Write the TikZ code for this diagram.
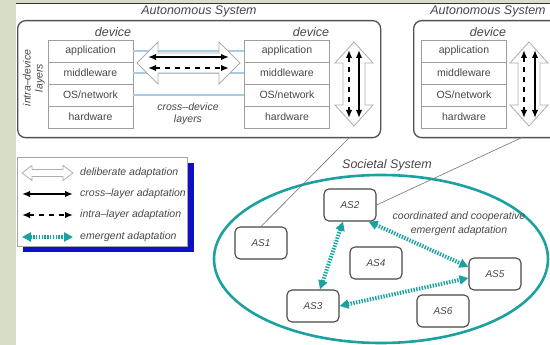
\documentclass[tikz,border=0pt]{standalone}
\usepackage{fontspec}
\setmainfont{Liberation Sans}
\usetikzlibrary{arrows.meta}
\definecolor{bggreen}{RGB}{216,221,202}
\definecolor{txt}{RGB}{72,72,72}
\definecolor{tealc}{RGB}{28,160,160}
\definecolor{lblue}{RGB}{165,205,232}
\definecolor{shadowblue}{RGB}{15,15,200}
\newcommand{\vdblarrow}[6]{\draw[hollow] (#1,#2) -- ({#1+#4},{#2+#6}) -- ({#1+#5},{#2+#6}) -- ({#1+#5},{#3-#6}) -- ({#1+#4},{#3-#6}) -- (#1,#3) -- ({#1-#4},{#3-#6}) -- ({#1-#5},{#3-#6}) -- ({#1-#5},{#2+#6}) -- ({#1-#4},{#2+#6}) -- cycle;}
\newcommand{\hdblarrow}[6]{\draw[hollow] (#2,#1) -- ({#2+#6},{#1-#4}) -- ({#2+#6},{#1-#5}) -- ({#3-#6},{#1-#5}) -- ({#3-#6},{#1-#4}) -- (#3,#1) -- ({#3-#6},{#1+#4}) -- ({#3-#6},{#1+#5}) -- ({#2+#6},{#1+#5}) -- ({#2+#6},{#1+#4}) -- cycle;}
\tikzset{
 lbl/.style={font=\fontsize{10.5}{12}\selectfont\itshape, text=txt, inner sep=0pt},
 title/.style={font=\fontsize{12.5}{14}\selectfont\itshape, text=txt, inner sep=0pt},
 asbox/.style={draw=black!68, line width=1.3pt, rounded corners=8pt, inner sep=0pt},
 layer/.style={draw=black!38, line width=0.7pt, minimum width=85pt, minimum height=22pt, inner sep=0pt, font=\fontsize{10.5}{12}\selectfont, text=txt},
 asnode/.style={draw=black!72, line width=1.1pt, rounded corners=5pt, minimum width=52pt, minimum height=32pt, inner sep=0pt, font=\fontsize{10}{12}\selectfont\itshape, text=txt},
 hollow/.style={draw=black!32, fill=white, line width=0.8pt, line join=miter},
 blk/.style={draw=black, line width=1.8pt, {Latex[length=8pt,width=6.5pt]}-{Latex[length=8pt,width=6.5pt]}},
 blkdash/.style={blk, dash pattern=on 5pt off 5pt},
 emerg/.style={draw=tealc, line width=4pt, dash pattern=on 1.4pt off 1.4pt, {Triangle[length=9pt,width=9pt]}-{Triangle[length=9pt,width=9pt]}},
 link/.style={draw=black!55, line width=0.6pt},
 crossl/.style={draw=lblue, line width=1.6pt},
}
\begin{document}
\begin{tikzpicture}[x=1pt,y=-1pt]
\useasboundingbox (0,0) rectangle (550,345);
\clip (0,0) rectangle (550,345);
\fill[white] (0,0) rectangle (550,345);
\fill[bggreen] (0,0) rectangle (16,345);
\fill[bggreen] (16,0) rectangle (550,3);
\draw[black!80, line width=1pt] (16,3.5) -- (550,3.5);

% titles
\node[title] (t1) at (199,11) {Autonomous System};
\node[title] (t2) at (488,11) {Autonomous System};

% autonomous system boxes
\node[asbox, minimum width=363pt, minimum height=117pt, anchor=north west] (asA) at (17,20) {};
\node[asbox, minimum width=160pt, minimum height=117pt, anchor=north west] (asB) at (413,20) {};

% devices
\foreach \d/\cx in {1/90.5, 2/287, 3/464} {
 \node[layer] (d\d-1) at (\cx,51) {application};
 \node[layer] (d\d-2) at (\cx,73) {middleware};
 \node[layer] (d\d-3) at (\cx,95) {OS/network};
 \node[layer] (d\d-4) at (\cx,117) {hardware};
}
\node[title] (dl1) at (113,32) {device};
\node[title] (dl2) at (311,32) {device};
\node[title] (dl3) at (488,32) {device};

% cross-device layers
\draw[crossl] (d1-1.east) -- (d2-1.west);
\draw[crossl] (d1-2.east) -- (d2-2.west);
\draw[crossl] (d1-3.east) -- (d2-3.west);

\node[lbl, align=center, rotate=90] (intra) at (34,78) {intra–device\\layers};
\node[lbl, align=center] (cross) at (188,114) {cross–device\\layers};

% horizontal deliberate adaptation
\hdblarrow{63}{137}{240}{21}{10}{21}
\coordinate (hs1) at (148,57); \coordinate (hs2) at (229,57);
\coordinate (hd1) at (148,68); \coordinate (hd2) at (229,68);
\draw[blk] (hs1) -- (hs2);
\draw[blkdash] (hd1) -- (hd2);

% vertical deliberate adaptation
\vdblarrow{354}{42}{126}{19}{11}{21}
\coordinate (va1) at (349,50); \coordinate (va2) at (349,118);
\coordinate (vb1) at (359,50); \coordinate (vb2) at (359,118);
\draw[blkdash] (va1) -- (va2);
\draw[blk] (vb1) -- (vb2);
\vdblarrow{529}{42}{126}{19}{11}{21}
\coordinate (vc1) at (524,50); \coordinate (vc2) at (524,118);
\coordinate (vd1) at (535,50); \coordinate (vd2) at (535,118);
\draw[blkdash] (vc1) -- (vc2);
\draw[blk] (vd1) -- (vd2);

% legend
\fill[shadowblue] (23,163) rectangle (194,252);
\node[draw=black!35, fill=white, line width=0.7pt, minimum width=170pt, minimum height=89pt, anchor=north west, inner sep=0pt] (legend) at (17,157) {};
\hdblarrow{173}{22}{73}{7.5}{3.5}{10}
\node[lbl, anchor=west] (lg1) at (80,173) {deliberate adaptation};
\coordinate (l2a) at (22,194); \coordinate (l2b) at (73,194);
\draw[blk] (l2a) -- (l2b);
\node[lbl, anchor=west] (lg2) at (80,194) {cross–layer adaptation};
\coordinate (l3a) at (22,215); \coordinate (l3b) at (73,215);
\draw[blkdash] (l3a) -- (l3b);
\node[lbl, anchor=west] (lg3) at (80,215) {intra–layer adaptation};
\coordinate (l4a) at (22,237); \coordinate (l4b) at (73,237);
\draw[emerg] (l4a) -- (l4b);
\node[lbl, anchor=west] (lg4) at (80,237) {emergent adaptation};

% societal system
\node[title] (soclbl) at (387,165) {Societal System};
\draw[draw=tealc, line width=2.6pt] (381,259) ellipse [x radius=167, y radius=84];

\node[asnode] (AS1) at (261,243) {AS1};
\node[asnode] (AS2) at (350,205) {AS2};
\node[asnode] (AS3) at (313,306) {AS3};
\node[asnode] (AS4) at (376,263) {AS4};
\node[asnode] (AS5) at (495,274) {AS5};
\node[asnode] (AS6) at (443,311) {AS6};

\node[lbl, align=center, font=\fontsize{10.5}{14}\selectfont\itshape] (coord) at (459,224) {coordinated and cooperative\\emergent adaptation};

\coordinate (lA) at (350,137);
\coordinate (lB) at (523,137);
\draw[link] (lA) -- (AS1.north);
\draw[link] (lB) -- (AS2.east);

\draw[emerg] ([xshift=-7pt]AS2.south) -- ([xshift=7pt]AS3.north);
\draw[emerg] ([xshift=-8pt]AS2.south east) -- ([yshift=7pt]AS5.west);
\draw[emerg] (AS3.east) -- ([yshift=-4pt]AS5.west);
\end{tikzpicture}
\end{document}
